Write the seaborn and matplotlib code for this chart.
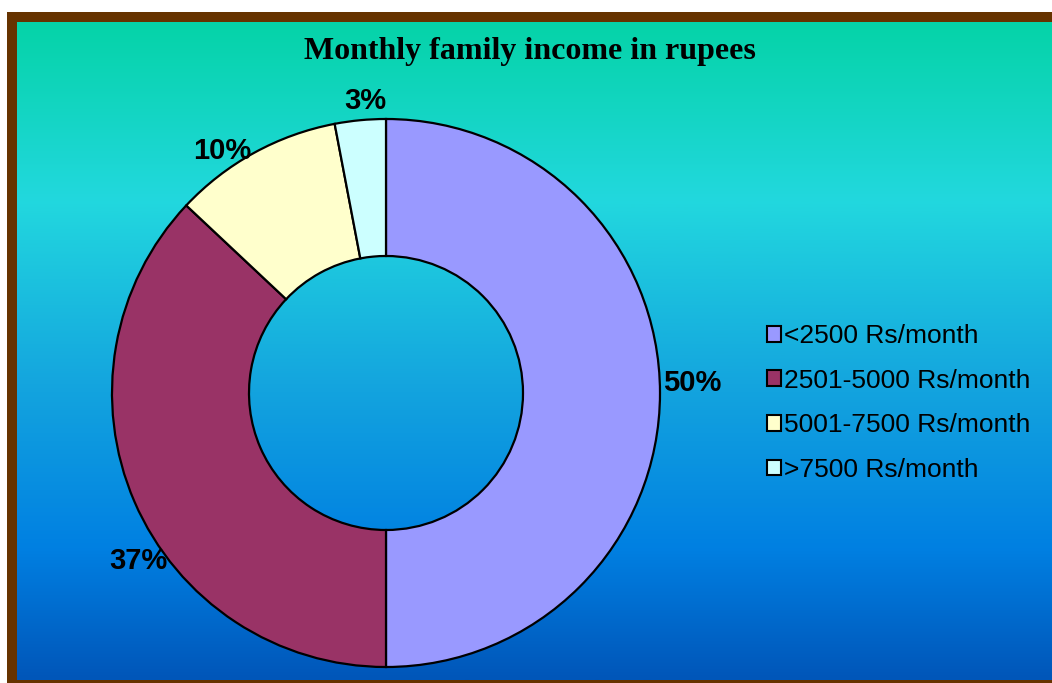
import numpy as np
import matplotlib.pyplot as plt
import seaborn as sns
from matplotlib.colors import LinearSegmentedColormap
from matplotlib.patches import Rectangle

sns.set_style("white")
plt.rcParams['font.family'] = ['Liberation Sans', 'DejaVu Sans']
plt.rcParams['text.color'] = 'black'

categories = ['<2500 Rs/month', '2501-5000 Rs/month', '5001-7500 Rs/month', '>7500 Rs/month']
shares = [50, 37, 10, 3]
colors = sns.color_palette(['#9999FF', '#993366', '#FFFFCC', '#CCFFFF'])
# small nudges (pixels, right / down) of the % labels, like the original layout
label_nudge = [(5, -10), (29, 48), (-19, 22), (8, 8)]

W, H = 1052, 683
fig = plt.figure(figsize=(W / 100, H / 100), dpi=100)
fig.patch.set_facecolor('white')

# background: brown frame + vertical gradient
bg = fig.add_axes([0, 0, 1, 1])
bg.set_xlim(0, W)
bg.set_ylim(H, 0)
bg.axis('off')
bg.add_patch(Rectangle((7, 12), W, H, facecolor='#663300', edgecolor='none'))
grad = LinearSegmentedColormap.from_list('bg', [
    (0.0, (5/255, 211/255, 168/255)),
    (0.27, (34/255, 216/255, 222/255)),
    (0.55, (20/255, 165/255, 222/255)),
    (0.80, (0/255, 128/255, 226/255)),
    (1.0, (0/255, 86/255, 185/255)),
])
bg.imshow(np.linspace(0, 1, 256).reshape(-1, 1), cmap=grad, aspect='auto',
          extent=[17, W, 680, 22], zorder=1)

# donut
R = 274
cx, cy = 386, 393
ax = fig.add_axes([(cx - R) / W, (H - cy - R) / H, 2 * R / W, 2 * R / H])
ax.patch.set_alpha(0)
wedges, texts, autotexts = ax.pie(
    shares, colors=colors, startangle=90, counterclock=False,
    autopct='%1.0f%%', pctdistance=1.1,
    wedgeprops=dict(width=0.5, edgecolor='black', linewidth=1.6),
    textprops=dict(fontsize=21, fontweight='bold', color='black'))
ax.set_xlim(-1, 1)
ax.set_ylim(-1, 1)
ax.set_aspect('equal')
ax.axis('off')
for t, (dx, dy) in zip(autotexts, label_nudge):
    x, y = t.get_position()
    t.set_position((x + dx / R, y - dy / R))
    t.set_clip_on(False)

fig.text(530 / W, 1 - 52 / H, 'Monthly family income in rupees',
         family=['Liberation Serif', 'DejaVu Serif'], fontsize=23,
         fontweight='bold', ha='center', va='center', color='black')

leg = fig.legend(wedges, categories, loc='center left',
                 bbox_to_anchor=(743 / W, 1 - 403 / H), frameon=False,
                 fontsize=19, handlelength=0.55, handleheight=0.55,
                 handletextpad=0.1, labelspacing=0.78)
for h in leg.legend_handles:
    h.set_linewidth(1.5)
for t in leg.get_texts():
    t.set_color('black')

fig.savefig('out.png', dpi=100)
